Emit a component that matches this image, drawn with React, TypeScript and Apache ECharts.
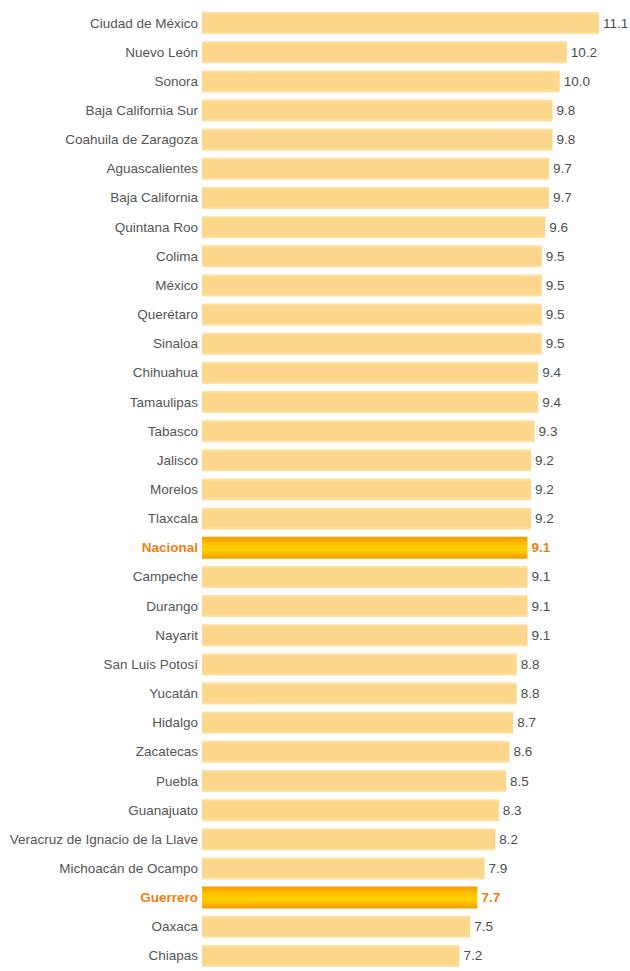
import React, { useEffect, useRef } from "react";
import * as echarts from "echarts";

const states = [
  "Ciudad de México", "Nuevo León", "Sonora", "Baja California Sur", "Coahuila de Zaragoza",
  "Aguascalientes", "Baja California", "Quintana Roo", "Colima", "México", "Querétaro",
  "Sinaloa", "Chihuahua", "Tamaulipas", "Tabasco", "Jalisco", "Morelos", "Tlaxcala",
  "Nacional", "Campeche", "Durango", "Nayarit", "San Luis Potosí", "Yucatán", "Hidalgo",
  "Zacatecas", "Puebla", "Guanajuato", "Veracruz de Ignacio de la Llave",
  "Michoacán de Ocampo", "Guerrero", "Oaxaca", "Chiapas",
];
const values = [
  11.1, 10.2, 10.0, 9.8, 9.8, 9.7, 9.7, 9.6, 9.5, 9.5, 9.5, 9.5, 9.4, 9.4, 9.3, 9.2, 9.2, 9.2,
  9.1, 9.1, 9.1, 9.1, 8.8, 8.8, 8.7, 8.6, 8.5, 8.3, 8.2, 7.9, 7.7, 7.5, 7.2,
];
const highlighted = ["Nacional", "Guerrero"];

const FONT = "'Liberation Sans', Arial, sans-serif";

export default function App() {
  const ref = useRef<HTMLDivElement>(null);
  useEffect(() => {
    if (!ref.current) return;
    const chart = echarts.init(ref.current, null, { renderer: "svg" });
    const normalColor = new echarts.graphic.LinearGradient(0, 0, 0, 1, [
      { offset: 0, color: "#FDE3A8" },
      { offset: 0.15, color: "#FCD68A" },
      { offset: 0.85, color: "#FCD68A" },
      { offset: 1, color: "#FDE3A8" },
    ]);
    const hiColor = new echarts.graphic.LinearGradient(0, 0, 0, 1, [
      { offset: 0, color: "#F59A00" },
      { offset: 0.35, color: "#FFC400" },
      { offset: 0.6, color: "#FFD000" },
      { offset: 1, color: "#F59A00" },
    ]);
    chart.setOption({
      animation: false,
      grid: { left: 202, right: 31, top: 8.5, bottom: 0.5, containLabel: false },
      xAxis: {
        type: "value",
        min: 0,
        max: 11.1,
        show: false,
      },
      yAxis: {
        type: "category",
        data: states,
        inverse: true,
        axisLine: { show: false },
        axisTick: { show: false },
        axisLabel: {
          margin: 4,
          fontFamily: FONT,
          fontSize: 13.5,
          color: "#555555",
          formatter: (v: string) => (highlighted.includes(v) ? `{hi|${v}}` : v),
          rich: {
            hi: { fontFamily: FONT, fontSize: 13.5, fontWeight: "bold", color: "#F07F12" },
          },
        },
      },
      series: [
        {
          type: "bar",
          barWidth: 22,
          data: values.map((v, i) => {
            const hi = highlighted.includes(states[i]);
            return {
              value: v,
              itemStyle: { color: hi ? hiColor : normalColor },
              label: hi
                ? { color: "#F07F12", fontWeight: "bold" }
                : undefined,
            };
          }),
          label: {
            show: true,
            position: "right",
            distance: 4,
            fontFamily: FONT,
            fontSize: 13.5,
            color: "#4d4d4d",
            formatter: (p: any) => Number(p.value).toFixed(1),
          },
        },
      ],
    });
    return () => chart.dispose();
  }, []);
  return (
    <div
      ref={ref}
      style={{ position: "fixed", left: 0, top: 0, width: 630, height: 971, background: "#fff" }}
    />
  );
}
